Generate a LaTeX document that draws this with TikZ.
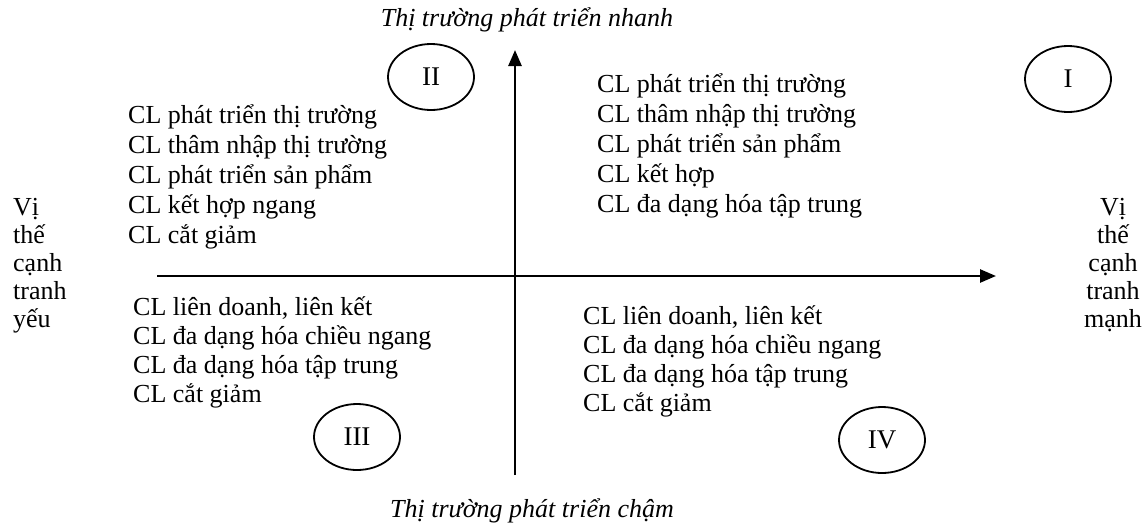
\documentclass[tikz,border=0pt]{standalone}
\usepackage{fontspec}
\setmainfont{Liberation Serif}
\usetikzlibrary{arrows.meta,shapes.geometric}
\begin{document}
\begin{tikzpicture}[x=1pt,y=-1pt,
  ln/.style={font=\fontsize{26}{30}\selectfont, anchor=base west, inner sep=0pt},
  sidel/.style={font=\fontsize{26}{30}\selectfont, anchor=base west, inner sep=0pt},
  sider/.style={font=\fontsize{26}{30}\selectfont, anchor=base, inner sep=0pt},
  ttl/.style={font=\fontsize{26}{30}\selectfont\itshape, anchor=base, inner sep=0pt},
  quad/.style={draw, line width=1.8pt, ellipse, minimum width=86pt, minimum height=66pt, font=\fontsize{27}{30}\selectfont, inner sep=0pt},
  axis/.style={line width=2.6pt, -{Triangle[length=16pt,width=13pt]}}]
\useasboundingbox (0,0) rectangle (1148,528);
\coordinate (vb) at (515,475);
\coordinate (vt) at (515,50);
\coordinate (hl) at (157,276);
\coordinate (hr) at (996,276);
\draw[axis] (vb) -- (vt);
\draw[axis] (hl) -- (hr);
\node[ttl] (top) at (527,26) {Thị trường phát triển nhanh};
\node[ttl] (bot) at (532,517) {Thị trường phát triển chậm};
\node[quad] (q2) at (431,77) {II};
\node[quad] (q1) at (1068,79) {I};
\node[quad] (q3) at (357,437) {III};
\node[quad] (q4) at (882,440) {IV};
\foreach \t [count=\i] in {CL phát triển thị trường, CL thâm nhập thị trường, CL phát triển sản phẩm, CL kết hợp, CL đa dạng hóa tập trung}
  \node[ln] (a\i) at (597,{92+30*(\i-1)}) {\t};
\foreach \t [count=\i] in {CL phát triển thị trường, CL thâm nhập thị trường, CL phát triển sản phẩm, CL kết hợp ngang, CL cắt giảm}
  \node[ln] (b\i) at (128,{123+30*(\i-1)}) {\t};
\foreach \t [count=\i] in {{CL liên doanh, liên kết}, CL đa dạng hóa chiều ngang, CL đa dạng hóa tập trung, CL cắt giảm}
  \node[ln] (c\i) at (133,{315+29*(\i-1)}) {\t};
\foreach \t [count=\i] in {{CL liên doanh, liên kết}, CL đa dạng hóa chiều ngang, CL đa dạng hóa tập trung, CL cắt giảm}
  \node[ln] (d\i) at (583,{324+29*(\i-1)}) {\t};
\foreach \t [count=\i] in {Vị, thế, cạnh, tranh, yếu}
  \node[sidel] (l\i) at (13,{215+28*(\i-1)}) {\t};
\foreach \t [count=\i] in {Vị, thế, cạnh, tranh, mạnh}
  \node[sider] (r\i) at (1113,{215+28*(\i-1)}) {\t};
\end{tikzpicture}
\end{document}
